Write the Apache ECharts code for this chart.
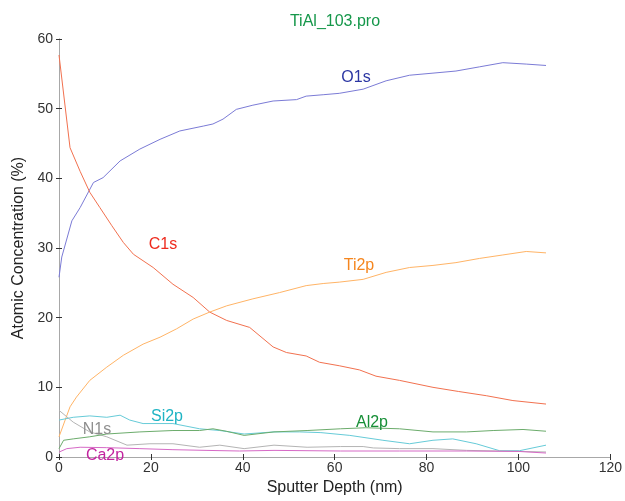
<!DOCTYPE html>
<html>
<head>
<meta charset="utf-8">
<script src="https://cdn.jsdelivr.net/npm/echarts@6/dist/echarts.min.js"></script>
<style>html,body{margin:0;padding:0;background:#fff;}#c{width:625px;height:501px;}</style>
</head>
<body>
<div id="c"></div>
<script>
// ---- data ----
const o1sX = [0,0.6,2.8,4.6,7.5,9.6,13.3,17.6,22,26.3,31.4,33.5,35.7,38.6,42.2,46.6,51.7,53.8,57.5,61,66.2,71.2,76.3,81.4,86.4,91.5,96.6,101.7,106];
const o1sY = [25.8,28.7,33.9,35.8,39.4,40.1,42.5,44.2,45.6,46.8,47.5,47.8,48.5,49.9,50.5,51.1,51.3,51.8,52,52.2,52.8,54,54.8,55.1,55.4,56,56.6,56.4,56.2];
const c1sX = [0,2.4,4.6,6.7,8.9,11.5,14,16.2,20.5,24.8,29.2,32.8,36.5,41.5,46.6,49.5,53.8,56.7,61,65.4,69,74.1,81.4,87,93,98.8,106];
const c1sY = [57.7,44.4,41,38,35.8,33.2,30.8,29.1,27.2,24.8,22.9,20.8,19.6,18.6,15.8,15,14.5,13.6,13.1,12.5,11.6,11,10,9.4,8.8,8.1,7.6];
const ti2pX = [0,2.4,3.8,6.7,10.4,14,18.3,22,25.6,29.2,32.8,36.5,42.2,48,53.8,57.5,61,66.2,71.2,76.3,81.4,86.4,91.5,96.6,101.7,106];
const ti2pY = [2.9,7.2,8.6,11,12.9,14.6,16.2,17.2,18.4,19.8,20.8,21.7,22.7,23.6,24.6,24.9,25.1,25.5,26.5,27.2,27.5,27.9,28.5,29,29.5,29.3];
const si2pX = [0,3.1,6.7,10.4,13.3,15.4,18.3,24.8,30.6,35,40.3,46.8,52.4,57,63.3,70.5,76.3,81.4,85.7,90.8,95.9,100.2,106];
const si2pY = [5.3,5.7,5.9,5.7,6.0,5.3,4.8,4.8,4.05,3.8,3.3,3.6,3.6,3.5,3.1,2.4,1.9,2.4,2.6,1.9,0.9,0.9,1.7];
const n1sX = [0,3.1,6.7,10.4,14.8,19.8,24.8,30.6,35,40.3,46.8,54,61.3,66.2,68.4,74.1,81.4,88.7,95.9,106];
const n1sY = [6.7,5.0,3.6,2.9,1.7,1.9,1.9,1.4,1.7,1.2,1.7,1.4,1.5,1.5,1.3,1.2,1.2,0.95,0.86,0.72];
const al2pX = [0,1,3.1,6.7,10.4,17.6,24.8,30.6,33.5,36.4,40.3,46.8,54,61.3,66.8,74.1,81.4,88.7,94.5,101,106];
const al2pY = [1.2,2.4,2.6,2.9,3.3,3.6,3.8,3.8,4.05,3.7,3.1,3.6,3.8,4.05,4.2,4.05,3.6,3.6,3.8,3.95,3.7];
const ca2pX = [0,1.7,4.6,10.4,17.6,24.8,32,39.3,46.8,61.3,74.1,88.7,100,106];
const ca2pY = [0.7,1.2,1.4,1.34,1.2,1.05,0.95,0.86,0.95,0.86,0.86,0.86,0.8,0.57];
const seriesNames = ['O1s','C1s','Ti2p','Si2p','N1s','Al2p','Ca2p'];
const xTicks = [0,20,40,60,80,100,120];
const yTicks = [0,10,20,30,40,50,60];

// ---- styles ----
const lineColors = ['#7b7bd6','#f2714f','#ffb466','#66cbd8','#b4b4b4','#6cac6c','#d66ac6'];
const textColors = ['#2b36a3','#ee2b1e','#f5861f','#1fb4c4','#8f8f8f','#178f37','#c2239f'];
const labelPos = [[356,78],[163,245],[359,266],[167,417],[97,430],[372,423],[105,456]];
const FONT = '"Liberation Sans", Arial, sans-serif';

const xs = [o1sX,c1sX,ti2pX,si2pX,n1sX,al2pX,ca2pX];
const ys = [o1sY,c1sY,ti2pY,si2pY,n1sY,al2pY,ca2pY];
function pairs(x,y){ return x.map((v,i)=>[v,y[i]]); }

const chart = echarts.init(document.getElementById('c'), null, {renderer:'canvas'});
const axisLine = {show:true, lineStyle:{color:'#a8a8a8', width:1}};
const axisTick = {show:true, inside:true, length:3, lineStyle:{color:'#333', width:1}};
const option = {
  animation:false,
  backgroundColor:'#fff',
  grid:{left:59, right:14, top:39, bottom:41},
  xAxis:[{
    type:'value', min:0, max:120, interval:20, position:'bottom',
    axisLine, axisTick, splitLine:{show:false},
    axisLabel:{color:'#333', fontSize:14, fontFamily:FONT, margin:4},
    name:'Sputter Depth (nm)', nameLocation:'middle', nameGap:23,
    nameTextStyle:{color:'#222', fontSize:16, fontFamily:FONT}
  },{
    type:'value', min:0, max:120, interval:20, position:'top',
    axisLine, axisTick, axisLabel:{show:false}, splitLine:{show:false}
  }],
  yAxis:[{
    type:'value', min:0, max:60, interval:10, position:'left',
    axisLine, axisTick, splitLine:{show:false},
    axisLabel:{color:'#333', fontSize:14, fontFamily:FONT, margin:6},
    name:'Atomic Concentration (%)', nameLocation:'middle', nameGap:28,
    nameTextStyle:{color:'#222', fontSize:16, fontFamily:FONT}
  },{
    type:'value', min:0, max:60, interval:10, position:'right',
    axisLine, axisTick, axisLabel:{show:false}, splitLine:{show:false}
  }],
  series: seriesNames.map((n,i)=>({
    name:n, type:'line', data:pairs(xs[i],ys[i]), showSymbol:false, symbol:'none',
    lineStyle:{color:lineColors[i], width:1}, silent:true, z:2
  })),
  graphic: [
    {type:'text', x:335, y:22, style:{text:'TiAl_103.pro', fill:'#15974a', font:'16px '+FONT, textAlign:'center', textVerticalAlign:'middle'}},
    ...seriesNames.map((n,i)=>({
      type:'text', x:labelPos[i][0], y:labelPos[i][1], z:5,
      style:{text:n, fill:textColors[i], font:'16px '+FONT, textAlign:'center', textVerticalAlign:'middle'}
    })),
    {type:'rect', shape:{x:80, y:461, width:52, height:10}, style:{fill:'#fff'}, z:10}
  ]
};
chart.setOption(option);
</script>
</body>
</html>
